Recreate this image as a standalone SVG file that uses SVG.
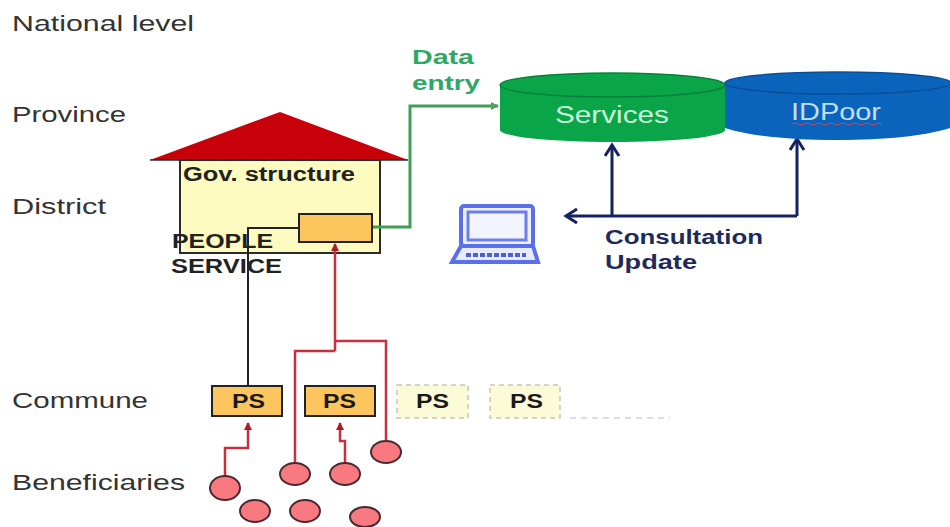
<svg xmlns="http://www.w3.org/2000/svg" width="950" height="527" viewBox="0 0 950 527">
<style>
text{font-family:"Liberation Sans",Arial,sans-serif}
.lvl{font-size:22px;fill:#333}
.blk{font-size:20px;font-weight:bold;fill:#222}
.ps{font-size:20px;font-weight:bold;fill:#1a1a1a}
.nav{font-size:20px;font-weight:bold;fill:#1f2a5c}
.grn{font-size:20px;font-weight:bold;fill:#2fa866}
.circ{fill:#f87a80;stroke:#4a2a30;stroke-width:2}
.psa{fill:#fdc55e;stroke:#222;stroke-width:2}
.psd{fill:#fbfbd8;stroke:#c8c8b0;stroke-width:1.5;stroke-dasharray:5 4}
.red{fill:none;stroke:#c2333f;stroke-width:2.5}
.navl{fill:none;stroke:#14235f;stroke-width:3}
</style>
<defs>
<marker id="ar" markerWidth="10" markerHeight="10" refX="7" refY="4" orient="auto" markerUnits="userSpaceOnUse"><path d="M0,0L8,4L0,8Z" fill="#b01828"/></marker>
<marker id="ag" markerWidth="10" markerHeight="10" refX="7" refY="4" orient="auto" markerUnits="userSpaceOnUse"><path d="M0,0L8,4L0,8Z" fill="#5a9a60"/></marker>
<marker id="an" markerWidth="18" markerHeight="18" refX="14" refY="8" orient="auto" markerUnits="userSpaceOnUse"><path d="M3,1L14,8L3,15" fill="none" stroke="#14235f" stroke-width="3"/></marker>
</defs>
<g id="levels">
<text class="lvl" x="12" y="31" textLength="182" lengthAdjust="spacingAndGlyphs">National level</text>
<text class="lvl" x="12" y="122" textLength="114" lengthAdjust="spacingAndGlyphs">Province</text>
<text class="lvl" x="12" y="214" textLength="94" lengthAdjust="spacingAndGlyphs">District</text>
<text class="lvl" x="12" y="408" textLength="136" lengthAdjust="spacingAndGlyphs">Commune</text>
<text class="lvl" x="12" y="490" textLength="173" lengthAdjust="spacingAndGlyphs">Beneficiaries</text>
</g>
<g id="house">
<rect x="180" y="160" width="200" height="93" fill="#fdfbc0" stroke="#2a2a2a" stroke-width="2"/>
<path d="M150,160L280,112L408,160Z" fill="#c8000a"/>
<path d="M150,160H408" stroke="#2a2a2a" stroke-width="1.500"/>
<text class="blk" x="183" y="181" textLength="172" lengthAdjust="spacingAndGlyphs">Gov. structure</text>
</g>
<g id="connectors">
<path d="M248,386V228H299" fill="none" stroke="#222" stroke-width="2"/>
<path d="M372,227H410V106H498" fill="none" stroke="#3f9f55" stroke-width="3" marker-end="url(#ag)"/>
<path class="red" d="M335,351V244" marker-end="url(#ar)"/>
<path class="red" d="M295,464V351H335M335,341H386V441"/>
<path class="red" d="M225,477V448H248V423" marker-end="url(#ar)"/>
<path class="red" d="M345,463V441H340V423" marker-end="url(#ar)"/>
<path class="navl" d="M612,215V145" marker-end="url(#an)"/>
<path class="navl" d="M797,216V139" marker-end="url(#an)"/>
<path class="navl" d="M797,216H566" marker-end="url(#an)"/>
</g>
<g id="service-box">
<rect class="psa" x="299" y="214" width="73" height="28"/>
<text class="blk" x="172" y="248" textLength="101" lengthAdjust="spacingAndGlyphs">PEOPLE</text>
<text class="blk" x="171" y="273" textLength="111" lengthAdjust="spacingAndGlyphs">SERVICE</text>
</g>
<g id="data-entry">
<text class="grn" x="412" y="64" textLength="62" lengthAdjust="spacingAndGlyphs">Data</text>
<text class="grn" x="412" y="90" textLength="68" lengthAdjust="spacingAndGlyphs">entry</text>
</g>
<g id="services">
<path d="M500,85V130A112.500,12 0 0 0 725,130V85Z" fill="#0aa548"/>
<ellipse cx="612.500" cy="85" rx="112.500" ry="12" fill="#0aa548" stroke="#06803a" stroke-width="1.500"/>
<text x="555" y="123" font-size="23" fill="#c8f5dc" textLength="114" lengthAdjust="spacingAndGlyphs">Services</text>
</g>
<g id="idpoor">
<path d="M725,83V128C750,136 790,140 837,140C885,140 925,136 950,128V83Z" fill="#0a64bc"/>
<ellipse cx="838" cy="83" rx="113" ry="11" fill="#0a64bc" stroke="#084f98" stroke-width="1.500"/>
<text x="791" y="120" font-size="23" fill="#c4def5" textLength="90" lengthAdjust="spacingAndGlyphs">IDPoor</text>
<path d="M792,124q3,-2 6,0t6,0t6,0t6,0t6,0t6,0t6,0t6,0t6,0t6,0t6,0t6,0t6,0t6,0t6,0" fill="none" stroke="#c04a60" stroke-width="1"/>
</g>
<g id="laptop">
<rect x="461" y="206" width="72" height="40" rx="3" fill="#eef0ff" stroke="#5a70e8" stroke-width="4"/>
<rect x="468" y="212" width="58" height="28" fill="#f4f4ff" stroke="#6a80e8" stroke-width="3"/>
<path d="M461,246L452,262H538L533,246Z" fill="#e8ebff" stroke="#5a70e8" stroke-width="4"/>
<path d="M466,255H526" stroke="#4a60d8" stroke-width="4" stroke-dasharray="5 2"/>
</g>
<g id="consultation">
<text class="nav" x="605" y="244" textLength="158" lengthAdjust="spacingAndGlyphs">Consultation</text>
<text class="nav" x="605" y="269" textLength="92" lengthAdjust="spacingAndGlyphs">Update</text>
</g>
<g id="ps1"><rect class="psa" x="212" y="386" width="70" height="30"/><text class="ps" x="232" y="408" textLength="33" lengthAdjust="spacingAndGlyphs">PS</text></g>
<g id="ps2"><rect class="psa" x="305" y="386" width="70" height="30"/><text class="ps" x="323" y="408" textLength="33" lengthAdjust="spacingAndGlyphs">PS</text></g>
<g id="ps3"><rect class="psd" x="397" y="385" width="71" height="33"/><text class="ps" x="416" y="408" textLength="33" lengthAdjust="spacingAndGlyphs">PS</text></g>
<g id="ps4"><rect class="psd" x="490" y="385" width="70" height="33"/><text class="ps" x="510" y="408" textLength="33" lengthAdjust="spacingAndGlyphs">PS</text></g>
<g id="ps-more"><path d="M570,418H670" stroke="#d4d4d4" stroke-width="1.500" stroke-dasharray="6 5"/></g>
<g id="beneficiaries">
<ellipse class="circ" cx="225" cy="488" rx="15" ry="12"/>
<ellipse class="circ" cx="295" cy="474" rx="15" ry="11"/>
<ellipse class="circ" cx="345" cy="474" rx="15" ry="11"/>
<ellipse class="circ" cx="386" cy="452" rx="15" ry="11"/>
<ellipse class="circ" cx="255" cy="511" rx="15" ry="11"/>
<ellipse class="circ" cx="305" cy="511" rx="15" ry="11"/>
<ellipse class="circ" cx="365" cy="517" rx="15" ry="10"/>
</g>
</svg>
